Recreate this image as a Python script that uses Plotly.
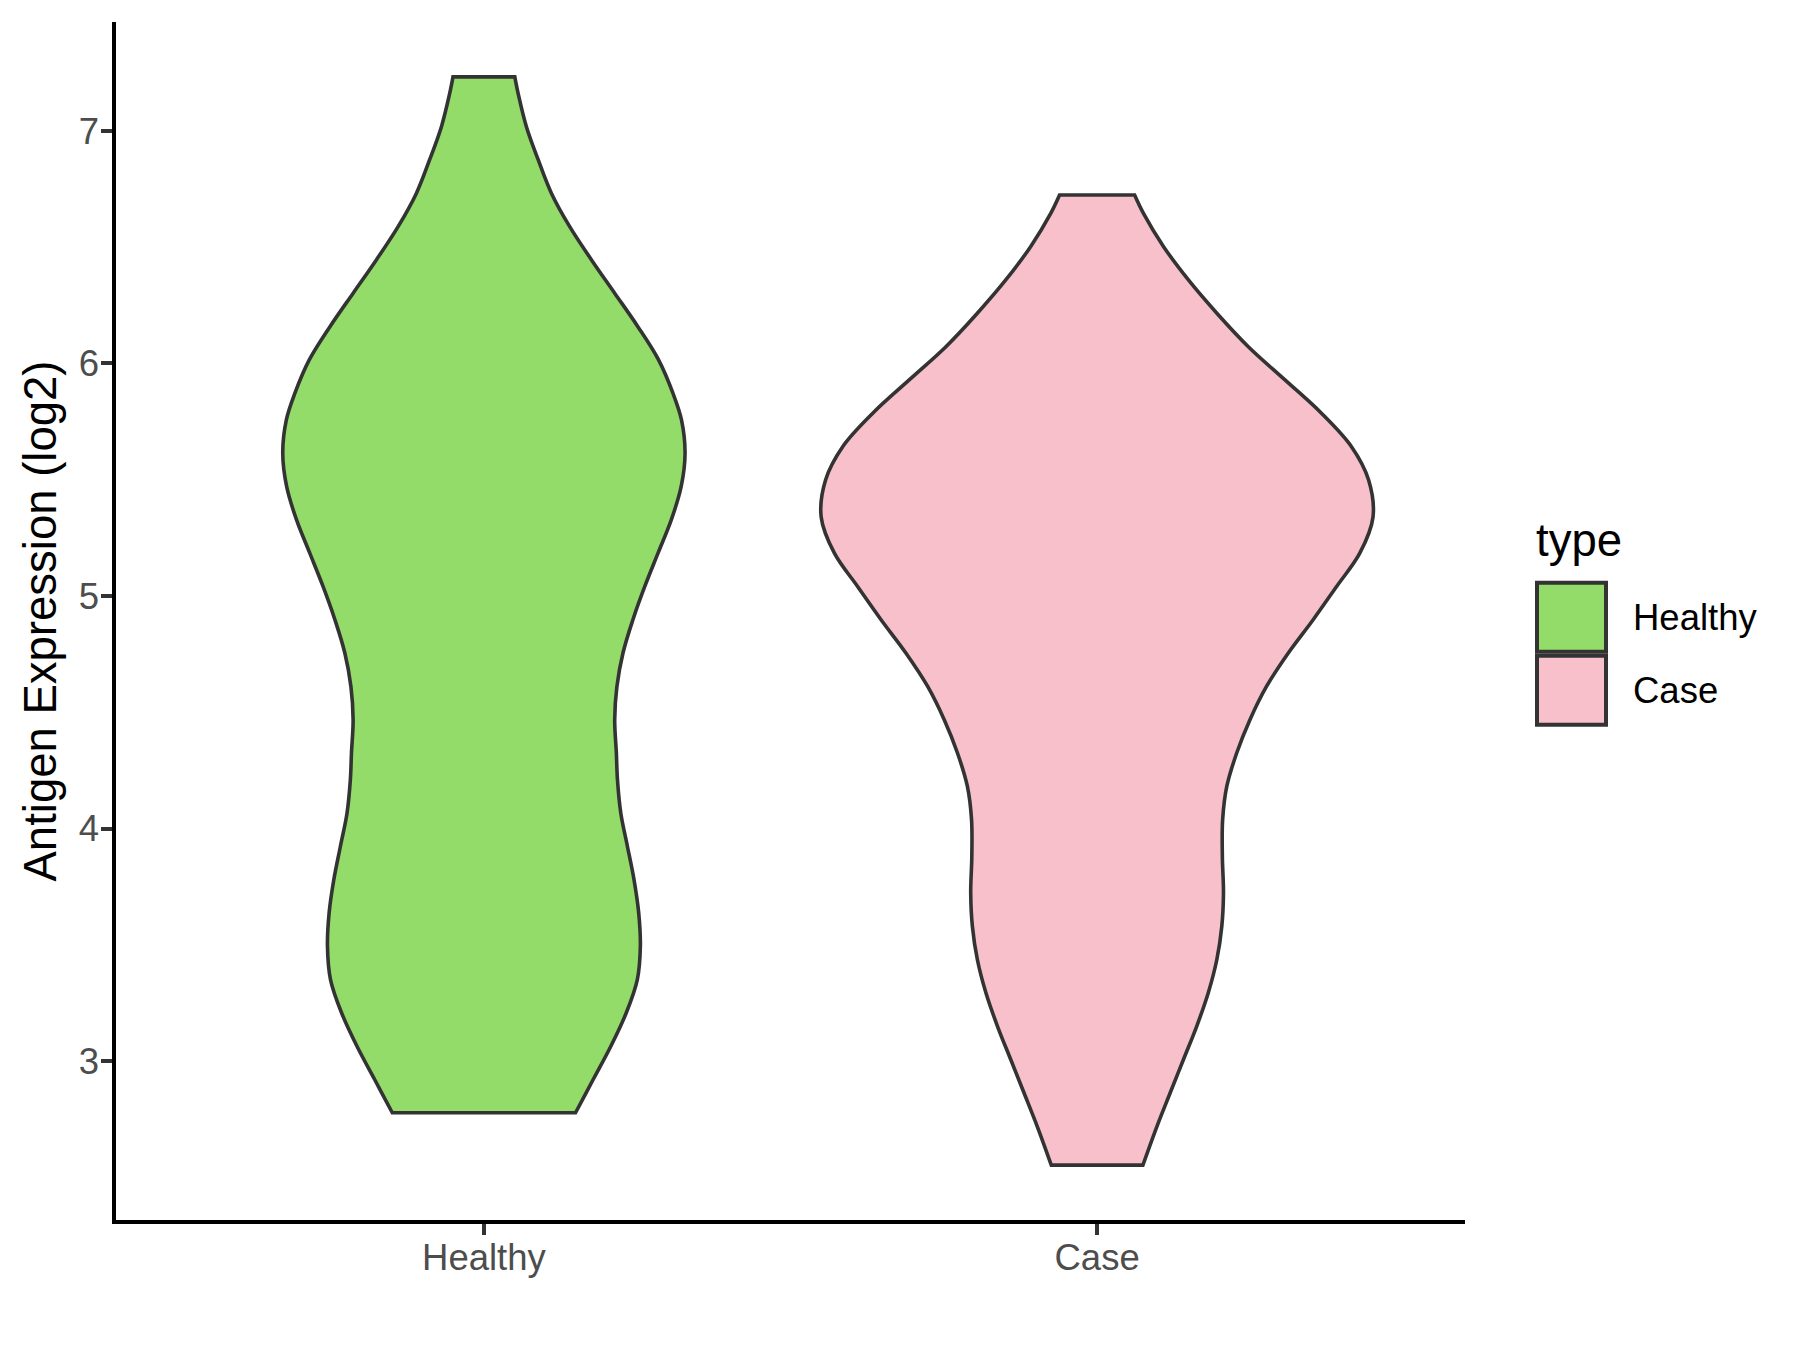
import plotly.graph_objects as go

# ---- data ----
categories = ["Healthy", "Case"]
fill_colors = ["#93DC6A", "#F7C0CB"]

# violin density profiles: y value and relative density (Case peak = 1)
healthy_y = [2.778, 2.921, 3.064, 3.208, 3.351, 3.494, 3.637, 3.780, 3.924, 4.067, 4.210,
             4.325, 4.468, 4.611, 4.755, 4.898, 5.041, 5.184, 5.327, 5.471, 5.614, 5.757,
             5.872, 6.015, 6.158, 6.302, 6.445, 6.588, 6.731, 6.875, 7.018, 7.161, 7.232]
healthy_density = [0.332, 0.396, 0.460, 0.516, 0.556, 0.567, 0.561, 0.544, 0.520, 0.496,
                   0.484, 0.480, 0.474, 0.482, 0.504, 0.540, 0.583, 0.631, 0.679, 0.715,
                   0.729, 0.716, 0.685, 0.633, 0.558, 0.474, 0.390, 0.311, 0.245, 0.197,
                   0.154, 0.124, 0.112]

case_y = [2.553, 2.720, 2.864, 3.007, 3.150, 3.294, 3.437, 3.580, 3.723, 3.880, 4.038,
          4.181, 4.325, 4.468, 4.611, 4.755, 4.898, 5.041, 5.184, 5.340, 5.499, 5.642,
          5.786, 5.929, 6.072, 6.216, 6.359, 6.502, 6.645, 6.724]
case_density = [0.166, 0.217, 0.265, 0.313, 0.361, 0.403, 0.434, 0.452, 0.458, 0.454,
                0.455, 0.470, 0.506, 0.554, 0.614, 0.693, 0.783, 0.868, 0.952, 1.000,
                0.984, 0.922, 0.813, 0.681, 0.548, 0.434, 0.331, 0.241, 0.168, 0.136]

y_ticks = [3, 4, 5, 6, 7]
y_title = "Antigen Expression (log2)"
legend_title = "type"

profiles = [(healthy_y, healthy_density), (case_y, case_density)]

# ---- geometry ----
W, H = 1800, 1350
PAGE_OFF = 8                      # default body margin of the html page
PX0, PX1, PY0, PY1 = 116, 1465, 22, 1220.5   # target plot area in the picture
ML = PX0 - PAGE_OFF
MT = PY0 - PAGE_OFF
MR = W - ML - (PX1 - PX0)
MB = H - MT - (PY1 - PY0)
FONT = "Liberation Sans, Arial, sans-serif"
HALF_WIDTH = 0.45
OUTLINE = "#333333"

fig = go.Figure()
for i, (cat, (ys, ds)) in enumerate(zip(categories, profiles)):
    c = i + 1
    left_x = [c - HALF_WIDTH * d for d in ds]
    right_x = [c + HALF_WIDTH * d for d in reversed(ds)]
    ys_l = list(ys)
    ys_r = list(reversed(ys))
    # repeat the end points so the flat top/bottom keep sharp corners
    xs = [left_x[0]] + left_x + [left_x[-1]] + [right_x[0]] + right_x + [right_x[-1], left_x[0], left_x[0]]
    yy = [ys_l[0]] + ys_l + [ys_l[-1]] + [ys_r[0]] + ys_r + [ys_r[-1], ys_l[0], ys_l[0]]
    fig.add_trace(go.Scatter(
        x=xs, y=yy, mode="lines", fill="toself", fillcolor=fill_colors[i],
        line=dict(color=OUTLINE, width=3.6, shape="spline", smoothing=1.0, simplify=False),
        name=cat, showlegend=False, hoverinfo="skip"))


def px2paper(x, y):
    return (x - PX0) / (PX1 - PX0), (PY1 - y) / (PY1 - PY0)


shapes = []
annotations = []
key_tops = [583, 656]
for i, cat in enumerate(categories):
    x0, y0 = px2paper(1537, key_tops[i] + 69)
    x1, y1 = px2paper(1606, key_tops[i])
    shapes.append(dict(type="rect", xref="paper", yref="paper", x0=x0, y0=y0, x1=x1, y1=y1,
                       fillcolor=fill_colors[i], line=dict(color=OUTLINE, width=4), layer="above"))
    tx, ty = px2paper(1631, key_tops[i] + 34.5)
    annotations.append(dict(text=cat, xref="paper", yref="paper", x=tx, y=ty,
                            xanchor="left", yanchor="middle", showarrow=False,
                            font=dict(family=FONT, size=36.5, color="black")))
tx, ty = px2paper(1534, 541)
annotations.append(dict(text=legend_title, xref="paper", yref="paper", x=tx, y=ty,
                        xanchor="left", yanchor="middle", showarrow=False,
                        font=dict(family=FONT, size=45.5, color="black")))

fig.update_layout(
    width=W, height=H,
    margin=dict(l=ML, r=MR, t=MT, b=MB, autoexpand=False),
    paper_bgcolor="white", plot_bgcolor="white",
    font=dict(family=FONT),
    shapes=shapes, annotations=annotations,
    showlegend=False,
    xaxis=dict(range=[0.4, 2.6], tickvals=[1, 2], ticktext=categories,
               showgrid=False, zeroline=False, showline=True, linecolor="black", linewidth=3.5,
               ticks="outside", ticklen=11, tickwidth=3.5, tickcolor=OUTLINE,
               ticklabelstandoff=-9,
               tickfont=dict(family=FONT, size=36.5, color="#4D4D4D")),
    yaxis=dict(range=[2.317, 7.468], tickvals=y_ticks,
               showgrid=False, zeroline=False, showline=True, linecolor="black", linewidth=3.5,
               ticks="outside", ticklen=11, tickwidth=3.5, tickcolor=OUTLINE,
               ticklabelstandoff=-5,
               tickfont=dict(family=FONT, size=36.5, color="#4D4D4D"),
               title=dict(text=y_title, font=dict(family=FONT, size=45.5, color="black"),
                          standoff=9)),
)

fig.write_html("out.html")
